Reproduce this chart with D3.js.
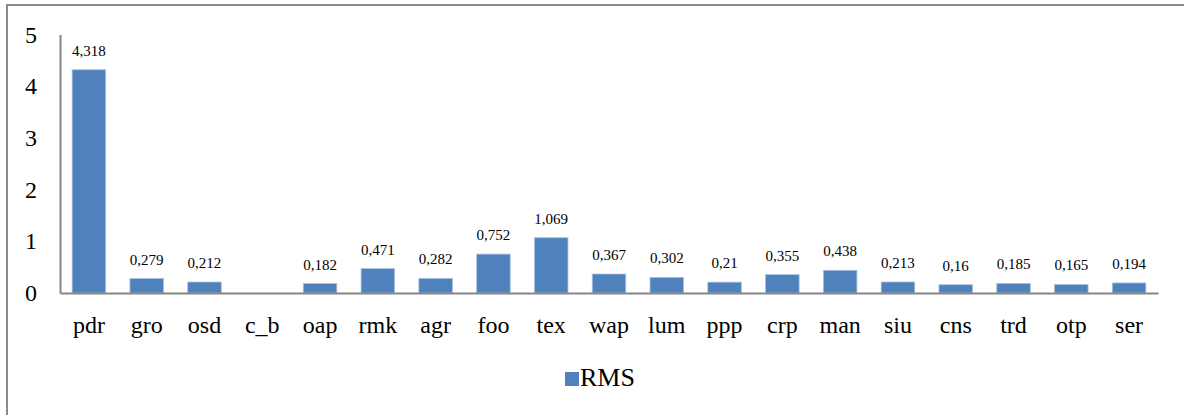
<!DOCTYPE html>
<html>
<head>
<meta charset="utf-8">
<script src="https://cdn.jsdelivr.net/npm/d3@7"></script>
<style>
  body { margin: 0; background: #fff; }
  svg { display: block; font-family: "Liberation Serif", "Times New Roman", serif; }
</style>
</head>
<body>
<svg id="chart"></svg>
<script>
// data
const categories = ["pdr", "gro", "osd", "c_b", "oap", "rmk", "agr", "foo", "tex", "wap",
  "lum", "ppp", "crp", "man", "siu", "cns", "trd", "otp", "ser"];
const rms = [4.318, 0.279, 0.212, 0, 0.182, 0.471, 0.282, 0.752, 1.069, 0.367,
  0.302, 0.21, 0.355, 0.438, 0.213, 0.16, 0.185, 0.165, 0.194];
const yTicks = [0, 1, 2, 3, 4, 5];
const seriesName = "RMS";

function makeChart() {
	let w = 1184;
	let h = 415;
	let m = { left: 60, right: 26, top: 34.5, bottom: 122 };

	let chart = d3.select('#chart')
		.attr('width', w)
		.attr('height', h);

	let locale = d3.formatLocale({ decimal: ",", thousands: ".", grouping: [3], currency: ["", ""] });
	let fmt = locale.format("~g");

	// frame around the chart area (runs off the right and bottom edges)
	chart.append('rect')
		.attr('x', 7)
		.attr('y', 5)
		.attr('width', w + 20)
		.attr('height', h + 20)
		.style('fill', 'none')
		.style('stroke', '#8a8a8a')
		.style('stroke-width', 2);

	let x = d3.scaleBand()
		.domain(categories)
		.range([m.left, w - m.right])
		.paddingInner(0.42)
		.paddingOuter(0.21);

	let y = d3.scaleLinear()
		.domain([0, 5])
		.range([h - m.bottom, m.top]);

	let data = categories.map((c, i) => ({ cat: c, value: rms[i] }));

	// bars
	chart.selectAll('rect.bar')
		.data(data)
		.enter()
		.append('rect')
		.attr('class', 'bar')
		.attr('x', d => x(d.cat))
		.attr('y', d => y(d.value))
		.attr('width', x.bandwidth())
		.attr('height', d => y(0) - y(d.value))
		.style('fill', '#4f81bd')
		.style('stroke', '#a7c0de')
		.style('stroke-width', d => d.value > 0 ? 0.8 : 0);

	// value labels
	chart.selectAll('text.val')
		.data(data.filter(d => d.value > 0))
		.enter()
		.append('text')
		.attr('class', 'val')
		.attr('x', d => x(d.cat) + x.bandwidth() / 2)
		.attr('y', d => y(d.value) - 14)
		.style('text-anchor', 'middle')
		.style('font-size', '15px')
		.text(d => fmt(d.value));

	// y axis
	let yAxis = chart.append('g')
		.attr('transform', `translate(${m.left},0)`)
		.call(d3.axisLeft(y).tickValues(yTicks).tickFormat(d3.format('d')).tickSize(0).tickPadding(23))
		.attr('font-family', null)
		.attr('font-size', null);
	yAxis.select('.domain').style('stroke', '#868686').style('stroke-width', 2);
	yAxis.selectAll('text').style('font-size', '24px').style('fill', '#000');

	// x axis
	let xAxis = chart.append('g')
		.attr('transform', `translate(0,${y(0)})`)
		.call(d3.axisBottom(x).tickSize(0).tickPadding(23))
		.attr('font-family', null)
		.attr('font-size', null);
	xAxis.select('.domain').style('stroke', '#868686').style('stroke-width', 2);
	xAxis.selectAll('text').style('font-size', '24px').style('fill', '#000');

	// legend
	let legend = chart.append('g').attr('transform', 'translate(565,372)');
	legend.append('rect')
		.attr('width', 14)
		.attr('height', 14)
		.style('fill', '#4f81bd');
	legend.append('text')
		.attr('x', 15)
		.attr('y', 14)
		.style('font-size', '26px')
		.text(seriesName);
}

makeChart();
</script>
</body>
</html>
